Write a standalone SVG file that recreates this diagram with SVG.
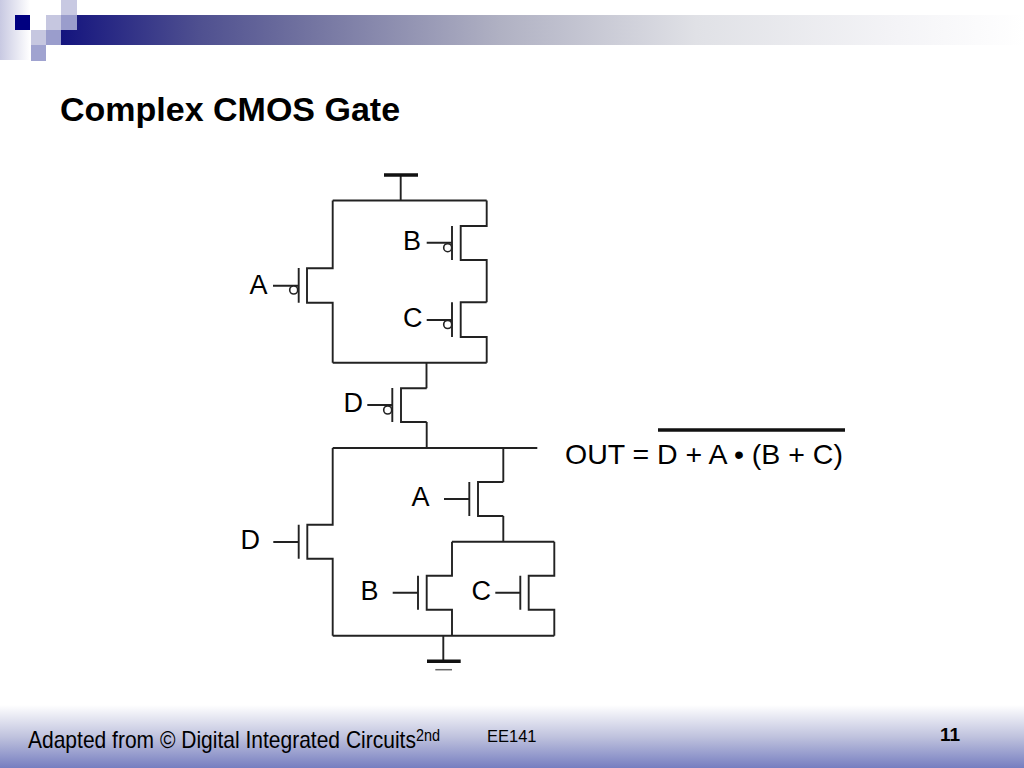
<svg xmlns="http://www.w3.org/2000/svg" width="1024" height="768" viewBox="0 0 1024 768">
<style>
text{font-family:"Liberation Sans",Arial,sans-serif;fill:#000}
.w{fill:none;stroke:#222;stroke-width:1.900;stroke-linejoin:miter}
.g{fill:none;stroke:#222;stroke-width:1.900}
.b{fill:#fff;stroke:#222;stroke-width:1.600}
.l{font-size:27px}
</style>
<defs>
<linearGradient id="bar" x1="0" x2="1" y1="0" y2="0"><stop offset="0" stop-color="#14147e"/><stop offset="0.144" stop-color="#4f5090"/><stop offset="0.25" stop-color="#70719f"/><stop offset="0.456" stop-color="#b0b1c3"/><stop offset="0.66" stop-color="#e0e1e6"/><stop offset="0.87" stop-color="#f4f4f7"/><stop offset="1" stop-color="#fff"/></linearGradient>
<linearGradient id="side" x1="0" x2="1" y1="0" y2="0"><stop offset="0" stop-color="#c8c9e2"/><stop offset="1" stop-color="#fff"/></linearGradient>
<linearGradient id="foot" x1="0" x2="0" y1="0" y2="1"><stop offset="0" stop-color="#fff"/><stop offset="0.5" stop-color="#c0c3de"/><stop offset="1" stop-color="#767ec0"/></linearGradient>
</defs>
<rect width="1024" height="768" fill="#fff"/>
<g id="banner">
<rect x="0" y="0" width="30" height="60" fill="url(#side)"/>
<rect x="61" y="15" width="963" height="30" fill="url(#bar)"/>
<rect x="15" y="15" width="15" height="15" fill="#000080"/>
<rect x="46" y="15" width="15" height="15" fill="#c6c7e0"/>
<rect x="61" y="0" width="16" height="15" fill="#c8c9e2"/>
<rect x="61" y="15" width="16" height="15" fill="#9a9dcc"/>
<rect x="31" y="30" width="15" height="15" fill="#c6c7e0"/>
<rect x="46" y="30" width="15" height="15" fill="#9a9dcc"/>
<rect x="31" y="45" width="15" height="16" fill="#a0a3d0"/>
</g>
<rect id="footer" x="0" y="705" width="1024" height="63" fill="url(#foot)"/>
<text id="title" x="60" y="120.500" font-size="34" font-weight="bold">Complex CMOS Gate</text>
<g id="connectors">
<path class="w" d="M400.700 175V200.500M332.700 200.500H486.700M332.700 362.700H486.700M426.500 362.700V388.300M426.700 422V448M332.700 448H537.300M503.300 448V482M503.300 516V541.700M452 541.700H554.300M332.700 635.700H554.300M443.300 635.700V661"/>
<path d="M384 175H418M427 661.300H460.700" fill="none" stroke="#111" stroke-width="3.500"/>
<path d="M435.300 669.700H452" fill="none" stroke="#666" stroke-width="1.500"/>
</g>
<g id="pmos-a"><path class="w" d="M332.700 200.500V268.300H307V302.700H332.700V362.700"/><path class="g" d="M298.700 268V302.700M273 285.700H298.700"/><circle class="b" cx="293.700" cy="290" r="4"/><text class="l" x="249.500" y="293.500">A</text></g>
<g id="pmos-b"><path class="w" d="M486.700 200.500V226H460.700V260H486.700V302.300"/><path class="g" d="M452 226V260M426.700 242.700H452"/><circle class="b" cx="447.700" cy="247.700" r="4"/><text class="l" x="403" y="250">B</text></g>
<g id="pmos-c"><path class="w" d="M486.700 302.300H460.700V337H486.700V362.700"/><path class="g" d="M452 302.300V337M426.700 320H452"/><circle class="b" cx="447.700" cy="324.500" r="4"/><text class="l" x="403" y="327">C</text></g>
<g id="pmos-d"><path class="w" d="M426.700 388.300H401V422H426.700"/><path class="g" d="M392.300 388V422M367.300 405H392.300"/><circle class="b" cx="387.700" cy="410" r="4"/><text class="l" x="343.500" y="412">D</text></g>
<g id="nmos-d"><path class="w" d="M332.700 448V524.700H307.300V558.700H332.700V635.700"/><path class="g" d="M298.700 524.700V558.700M273.300 542H298.700"/><text class="l" x="240.500" y="549">D</text></g>
<g id="nmos-a"><path class="w" d="M503.300 482H478V516H503.300"/><path class="g" d="M469.300 482V516M444 499H469.300"/><text class="l" x="411.500" y="506">A</text></g>
<g id="nmos-b"><path class="w" d="M452 541.700V575.700H426.700V609.700H452V635.700"/><path class="g" d="M418 575.700V609.700M392.700 592.700H418"/><text class="l" x="360.500" y="600">B</text></g>
<g id="nmos-c"><path class="w" d="M554.300 541.700V575.700H528.700V609.700H554.300V635.700"/><path class="g" d="M520.300 575.700V609.700M495.300 592.700H520.300"/><text class="l" x="471.500" y="600">C</text></g>
<g id="equation"><text x="565" y="463.500" font-size="28.500">OUT = D + A • (B + C)</text><path d="M658 430H845" stroke="#111" stroke-width="3.500" fill="none"/></g>
<g id="footer-text">
<text x="28" y="748" font-size="24" textLength="412" lengthAdjust="spacingAndGlyphs">Adapted from © Digital Integrated Circuits<tspan font-size="16.500" dy="-7">2nd</tspan></text>
<text x="487" y="741.500" font-size="16.500">EE141</text>
<text x="940" y="741" font-size="19" font-weight="bold">11</text>
</g>
</svg>
